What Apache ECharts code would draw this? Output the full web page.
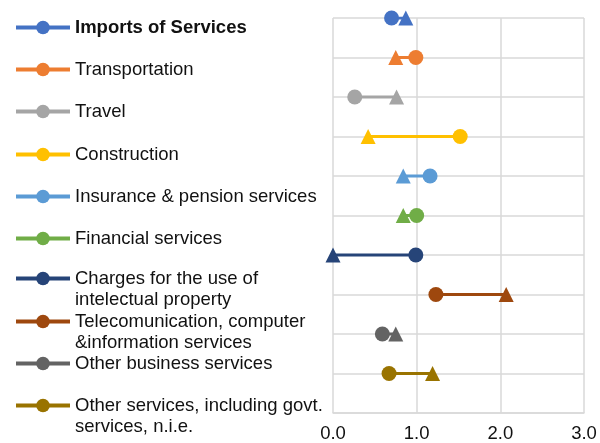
<!DOCTYPE html>
<html>
<head>
<meta charset="utf-8">
<script src="https://cdn.jsdelivr.net/npm/echarts@6/dist/echarts.min.js"></script>
<style>
  html, body { margin: 0; padding: 0; background: #fff; }
  #chart { width: 600px; height: 443px; }
</style>
</head>
<body>
<div id="chart"></div>
<script>
// categories, top to bottom
const categories = [
  'Imports of Services',
  'Transportation',
  'Travel',
  'Construction',
  'Insurance & pension services',
  'Financial services',
  'Charges for the use of\nintelectual property',
  'Telecomunication, computer\n&information services',
  'Other business services',
  'Other services, including govt.\nservices, n.i.e.'
]
// circle marker values
const circleValues = [0.70, 0.99, 0.26, 1.52, 1.16, 1.00, 0.99, 1.23, 0.59, 0.67]
// triangle marker values
const triangleValues = [0.87, 0.75, 0.76, 0.42, 0.84, 0.84, 0.00, 2.07, 0.75, 1.19]
const xTicks = [0, 1, 2, 3]

const colors = ['#4472C4', '#ED7D31', '#A5A5A5', '#FFC000', '#5B9BD5',
  '#70AD47', '#264478', '#9E480E', '#636363', '#997300']
// legend tops (layout only)
const legendTops = [17, 59, 101, 144, 186, 228, 247, 290, 353, 374]

const font = 'Liberation Sans, Arial, sans-serif'
const n = categories.length

const series = categories.map((name, i) => ({
  name: name,
  type: 'line',
  symbol: 'circle',
  symbolSize: 15,
  lineStyle: { width: 3, color: colors[i] },
  itemStyle: { color: colors[i] },
  emphasis: { disabled: true },
  data: [
    [circleValues[i], n - i],
    { value: [triangleValues[i], n - i], symbol: 'triangle', symbolSize: 15 }
  ]
}))

// two-line labels get a blank first line so the icon sits on the first text line
const legends = categories.map((name, i) => ({
  data: [name],
  left: 14,
  top: legendTops[i],
  padding: 0,
  itemWidth: 54,
  itemHeight: 17,
  itemGap: 5,
  selectedMode: false,
  lineStyle: { width: 4 },
  formatter: label => (label.indexOf('\n') >= 0 ? ' \n' + label : label),
  textStyle: {
    fontFamily: font,
    fontSize: 18.5,
    lineHeight: 21,
    color: '#111',
    fontWeight: i === 0 ? 'bold' : 'normal'
  }
}))

const myChart = echarts.init(document.getElementById('chart'))
myChart.setOption({
  animation: false,
  color: colors,
  legend: legends,
  grid: { left: 333, right: 16, top: 18, bottom: 29, containLabel: false },
  xAxis: {
    type: 'value',
    min: xTicks[0],
    max: xTicks[xTicks.length - 1],
    interval: 1,
    axisLine: { show: true, lineStyle: { color: '#D9D9D9', width: 1.5 } },
    axisTick: { show: false },
    axisLabel: {
      fontFamily: font,
      fontSize: 18.5,
      color: '#111',
      margin: 11,
      formatter: v => v.toFixed(1)
    },
    splitLine: { show: true, lineStyle: { color: '#D9D9D9', width: 1.5 } }
  },
  yAxis: {
    type: 'value',
    min: 0,
    max: n,
    interval: 1,
    axisLine: { show: false },
    axisTick: { show: false },
    axisLabel: { show: false },
    splitLine: { show: true, lineStyle: { color: '#D9D9D9', width: 1.5 } }
  },
  series: series
})
</script>
</body>
</html>
